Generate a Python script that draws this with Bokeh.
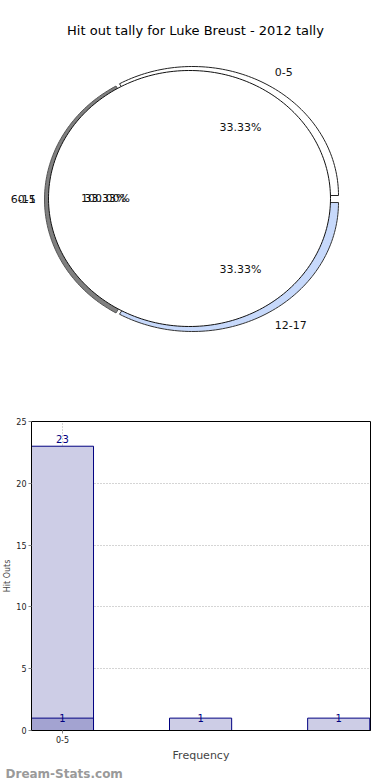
import numpy as np
from bokeh.plotting import figure
from bokeh.models import Range1d, FixedTicker, ColumnDataSource, Title
from bokeh.core.properties import value
from bokeh.embed import file_html
from bokeh.resources import INLINE

# ---------------- data ----------------
title_text = "Hit out tally for Luke Breust - 2012 tally"
pie_labels = ["0-5", "6-11", "12-17"]
pie_values = [1, 1, 1]
overlap_label = "0-5"
overlap_pct = "100.00%"

bar_categories = ["0-5", "6-11", "12-17"]
bar_totals = [23, 1, 1]
bar_low = [1, 0, 0]
y_ticks = [0, 5, 10, 15, 20, 25]
x_axis_label = "Frequency"
y_axis_label = "Hit Outs"
watermark = "Dream-Stats.com"

FONT = "DejaVu Sans"
W = 390

# ---------------- pie ----------------
H1 = 380
p1 = figure(width=W, height=H1, x_range=Range1d(0, W), y_range=Range1d(H1, 0),
            output_backend="svg", toolbar_location=None, min_border=0,
            x_axis_location=None, y_axis_location=None)
p1.grid.visible = False
p1.outline_line_color = None

cx, cy, rx, ry = 189.0, 198.0, 141.0, 128.0
slice_shift = [(3, -3), (-2, 1), (3, 4)]
slice_radius = [(146, 129), (143, 131), (146, 129)]
slice_fill = ["#ffffff", "#808080", "#c7d9fb"]
slice_line = ["#222222", "#555555", "#333333"]
draw_order = [1, 0, 2]

vals = np.array(pie_values, dtype=float)
frac = vals / vals.sum()
ends = np.cumsum(frac) * 2 * np.pi
starts = ends - frac * 2 * np.pi

for i in draw_order:
    th = np.linspace(starts[i], ends[i], 90)
    ox, oy = cx + slice_shift[i][0], cy + slice_shift[i][1]
    xs = [ox] + list(ox + slice_radius[i][0] * np.cos(th)) + [ox]
    ys = [oy] + list(oy - slice_radius[i][1] * np.sin(th)) + [oy]
    p1.patch(xs, ys, fill_color=slice_fill[i], line_color=slice_line[i], line_width=1)

# top face of the pie
th = np.linspace(0, 2 * np.pi, 240)
p1.patch(list(cx + rx * np.cos(th)), list(cy - ry * np.sin(th)),
         fill_color="#ffffff", line_color="#111111", line_width=1)

mids = (starts + ends) / 2
lab_k = 1.14
lx = cx + rx * lab_k * np.cos(mids)
ly = cy - ry * lab_k * np.sin(mids)
right_side = np.cos(mids) > 0.01
pct = [f"{100 * f:.2f}%" for f in frac]
for i in range(len(pie_labels)):
    if right_side[i]:
        p1.text(x=[lx[i] + 5], y=[ly[i]], text=[pie_labels[i]], text_align="left",
                text_baseline="middle", text_font=value(FONT), text_font_size="11px",
                text_color="#111111")
    else:
        p1.text(x=[lx[i] + 7, lx[i] + 7], y=[ly[i], ly[i]], text=[pie_labels[i], overlap_label],
                text_align="right", text_baseline="middle", text_font=value(FONT),
                text_font_size="11px", text_color="#111111")
pct_cx, pct_rx, pct_ry = cx + 6, 90.0, 82.0
px = pct_cx + pct_rx * np.cos(mids)
py = cy - pct_ry * np.sin(mids)
p1.text(x=px, y=py, text=pct, text_align="center", text_baseline="middle",
        text_font=value(FONT), text_font_size="11px", text_color="#111111")
left_i = int(np.argmin(np.cos(mids)))
p1.text(x=[px[left_i]], y=[py[left_i]], text=[overlap_pct], text_align="center",
        text_baseline="middle", text_font=value(FONT), text_font_size="11px", text_color="#111111")

p1.text(x=[195], y=[30], text=[title_text], text_align="center", text_baseline="middle",
        text_font=value(FONT), text_font_size="13px", text_color="#000000")

# ---------------- bars ----------------
H2 = 780 - H1
p2 = figure(width=W, height=H2, x_range=Range1d(-0.224, 2.23), y_range=Range1d(0, 25),
            output_backend="svg", toolbar_location=None,
            min_border_left=18, min_border_right=20, min_border_top=41, min_border_bottom=30)
p2.outline_line_color = "#000000"
p2.outline_line_width = 1

xs = list(range(len(bar_categories)))
src = ColumnDataSource(dict(x=xs, top=bar_totals))
p2.vbar(x="x", top="top", width=0.45, source=src, fill_color="#cdcde6", line_color="#000080", line_width=1)

low_x = [x for x, v in zip(xs, bar_low) if v > 0]
low_v = [v for v in bar_low if v > 0]
p2.vbar(x=low_x, top=low_v, width=0.45, fill_color="#a3a3d1", line_color="#000080", line_width=1)

tall = [i for i, v in enumerate(bar_totals) if v > 1]
short = [i for i, v in enumerate(bar_totals) if v <= 1]
p2.text(x=[xs[i] for i in tall], y=[bar_totals[i] for i in tall], text=[str(bar_totals[i]) for i in tall],
        text_align="center", text_baseline="bottom", y_offset=-3, text_font=value(FONT),
        text_font_size="10px", text_color="#000080")
p2.text(x=[xs[i] for i in short], y=[bar_totals[i] for i in short], text=[str(bar_totals[i]) for i in short],
        text_align="center", text_baseline="middle", text_font=value(FONT),
        text_font_size="10px", text_color="#000080")
p2.text(x=low_x, y=low_v, text=[str(v) for v in low_v], text_align="center", text_baseline="middle",
        text_font=value(FONT), text_font_size="10px", text_color="#000080")

p2.yaxis.ticker = FixedTicker(ticks=y_ticks)
p2.xaxis.ticker = FixedTicker(ticks=[0])
p2.xaxis.major_label_overrides = {0: bar_categories[0]}
for ax in (p2.xaxis[0], p2.yaxis[0]):
    ax.major_label_text_font = FONT
    ax.major_label_text_font_size = "8px"
    ax.major_label_text_color = "#222222"
    ax.major_tick_out = 3
    ax.major_tick_in = 0
    ax.minor_tick_line_color = None
    ax.major_label_standoff = 2
    ax.axis_line_color = "#000000"
    ax.major_tick_line_color = "#888888"
p2.xaxis.major_label_standoff = 2
p2.xaxis.axis_label = x_axis_label
p2.xaxis.axis_label_text_font = FONT
p2.xaxis.axis_label_text_font_style = "normal"
p2.xaxis.axis_label_text_font_size = "11px"
p2.xaxis.axis_label_standoff = 3
p2.yaxis.axis_label = y_axis_label
p2.yaxis.axis_label_text_font = FONT
p2.yaxis.axis_label_text_font_style = "normal"
p2.yaxis.axis_label_text_font_size = "8px"
p2.yaxis.axis_label_standoff = 1

p2.ygrid.ticker = FixedTicker(ticks=y_ticks[1:-1])
p2.xgrid.ticker = FixedTicker(ticks=[0])
for g in (p2.xgrid[0], p2.ygrid[0]):
    g.grid_line_color = "#aaaaaa"
    g.grid_line_dash = "1 2"
    g.grid_line_width = 1

wm = Title(text=watermark, align="left", text_font=FONT, text_font_size="12px",
           text_font_style="bold", text_color="#9a9a9a", standoff=0, offset=-26)
p2.add_layout(wm, "below")

open("out.html", "w").write(file_html([p1, p2], INLINE))
